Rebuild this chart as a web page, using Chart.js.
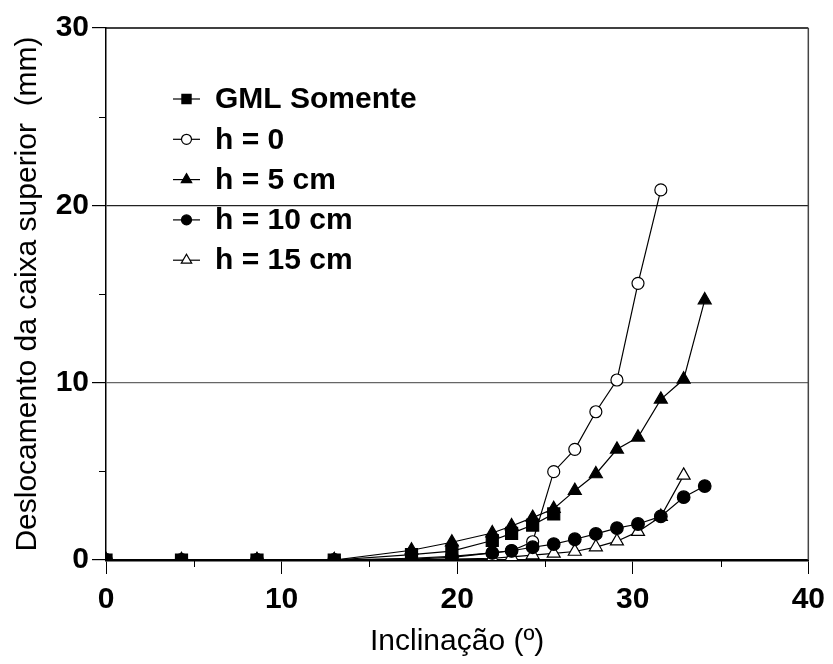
<!DOCTYPE html>
<html>
<head>
<meta charset="utf-8">
<script src="https://cdn.jsdelivr.net/npm/chart.js@4"></script>
<style>
  html, body { margin: 0; padding: 0; background: #fff; }
  #wrap { width: 833px; height: 664px; position: relative; }
</style>
</head>
<body>
<div id="wrap"><canvas id="c" width="833" height="664"></canvas></div>
<script>
// ---- data ----
const inclinacao = [0, 4.3, 8.6, 13.0, 17.4, 19.7, 22.0, 23.1, 24.3, 25.5, 26.7, 27.9, 29.1, 30.3, 31.6, 32.9, 34.1];
const gmlSomente = [0, 0, 0, 0, 0.3, 0.5, 1.1, 1.5, 1.97, 2.6];
const h0  = [0, 0, 0, 0, 0.1, 0.2, 0.4, 0.52, 1.03, 4.98, 6.24, 8.36, 10.15, 15.6, 20.87];
const h5  = [0, 0, 0, 0, 0.55, 1.0, 1.52, 1.92, 2.39, 2.89, 3.91, 4.85, 6.24, 6.92, 9.06, 10.19, 14.66];
const h10 = [0, 0, 0, 0, 0.05, 0.15, 0.4, 0.52, 0.72, 0.9, 1.17, 1.47, 1.8, 2.03, 2.46, 3.54, 4.17];
const h15 = [0, 0, 0, 0, 0, 0.05, 0.1, 0.18, 0.28, 0.37, 0.48, 0.73, 1.06, 1.6, 2.45, 4.77];
const seriesLabels = ['GML Somente', 'h = 0', 'h = 5 cm', 'h = 10 cm', 'h = 15 cm'];
const xTicks = [0, 10, 20, 30, 40];
const yTicks = [0, 10, 20, 30];
const xMinor = [5, 15, 25, 35];
const yMinor = [5, 15, 25];

function pts(ys) { return ys.map((v, i) => ({ x: inclinacao[i], y: v })); }

const styles = [
  { pointStyle: 'rect',     radius: 8.5, fill: '#000', order: 0, legendR: 6.5 },
  { pointStyle: 'circle',   radius: 6,   fill: '#fff', order: 3, legendR: 5 },
  { pointStyle: 'triangle', radius: 7.5, fill: '#000', order: 2, legendR: 6 },
  { pointStyle: 'circle',   radius: 6.3, fill: '#000', order: 1, legendR: 5 },
  { pointStyle: 'triangle', radius: 7.5, fill: '#fff', order: 4, legendR: 6 }
];
const seriesData = [gmlSomente, h0, h5, h10, h15];

const datasets = seriesData.map((d, i) => ({
  label: seriesLabels[i],
  data: pts(d),
  borderColor: '#000',
  borderWidth: 1.2,
  pointStyle: styles[i].pointStyle,
  pointRadius: styles[i].radius,
  pointBackgroundColor: styles[i].fill,
  pointBorderColor: '#000',
  pointBorderWidth: 1.2,
  order: styles[i].order,
  legendR: styles[i].legendR,
  tension: 0
}));

const FONT = "'Liberation Sans', Arial, Helvetica, sans-serif";

const decor = {
  id: 'decor',
  afterDatasetsDraw(chart) {
    const { ctx, chartArea: a, scales } = chart;
    ctx.save();
    // top and right frame
    ctx.strokeStyle = '#000';
    ctx.lineWidth = 1.5;
    ctx.beginPath();
    ctx.moveTo(a.left, a.top);
    ctx.lineTo(a.right, a.top);
    ctx.stroke();
    ctx.strokeStyle = '#444';
    ctx.lineWidth = 1.5;
    ctx.beginPath();
    ctx.moveTo(a.right, a.top);
    ctx.lineTo(a.right, a.bottom);
    ctx.stroke();
    // minor ticks
    ctx.strokeStyle = '#000';
    ctx.lineWidth = 1;
    xMinor.forEach(v => {
      const px = Math.round(scales.x.getPixelForValue(v)) + 0.5;
      ctx.beginPath(); ctx.moveTo(px, a.bottom); ctx.lineTo(px, a.bottom + 7); ctx.stroke();
    });
    yMinor.forEach(v => {
      const py = Math.round(scales.y.getPixelForValue(v)) + 0.5;
      ctx.beginPath(); ctx.moveTo(a.left - 7, py); ctx.lineTo(a.left, py); ctx.stroke();
    });
    // legend
    const lx = a.left + 67, tx = a.left + 109, ly0 = a.top + 71, step = 40.3;
    chart.data.datasets.forEach((ds, i) => {
      const y = ly0 + i * step;
      ctx.strokeStyle = '#000';
      ctx.lineWidth = 1.2;
      ctx.beginPath(); ctx.moveTo(lx, y); ctx.lineTo(lx + 27, y); ctx.stroke();
      ctx.fillStyle = ds.pointBackgroundColor;
      ctx.strokeStyle = '#000';
      ctx.lineWidth = 1.2;
      Chart.helpers.drawPoint(ctx, { pointStyle: ds.pointStyle, radius: ds.legendR, rotation: 0, borderWidth: 1.2 }, lx + 13.5, y);
      ctx.fillStyle = '#000';
      ctx.font = "bold 30px " + FONT;
      ctx.textAlign = 'left';
      ctx.textBaseline = 'middle';
      ctx.fillText(ds.label, tx, y + 1);
    });
    ctx.restore();
  }
};

new Chart(document.getElementById('c'), {
  type: 'line',
  data: { datasets },
  options: {
    responsive: false,
    animation: false,
    devicePixelRatio: 1,
    layout: { padding: { top: 28, right: 21, bottom: 0, left: 0 } },
    plugins: { legend: { display: false }, tooltip: { enabled: false } },
    scales: {
      x: {
        type: 'linear',
        min: 0, max: 40,
        afterBuildTicks(scale) { scale.ticks = xTicks.map(v => ({ value: v })); },
        afterFit(scale) { scale.height = 104; },
        ticks: { color: '#000', font: { family: FONT, size: 30, weight: 'bold' }, padding: 8, maxRotation: 0 },
        grid: { drawOnChartArea: false, color: '#000', tickColor: '#000', tickLength: 14, lineWidth: 1 },
        border: { display: true, color: '#000', width: 2.5 },
        title: { display: true, text: 'Inclinação (º)', color: '#000', font: { family: FONT, size: 30 }, padding: { top: 4, bottom: 4 } }
      },
      y: {
        type: 'linear',
        min: 0, max: 30,
        afterBuildTicks(scale) { scale.ticks = yTicks.map(v => ({ value: v })); },
        afterFit(scale) { scale.width = 106; },
        ticks: { color: '#000', font: { family: FONT, size: 30, weight: 'bold' }, padding: 3 },
        grid: {
          color: (c) => c.tick && c.tick.value === 20 ? '#222' : (c.tick && c.tick.value === 10 ? '#666' : 'rgba(0,0,0,0)'),
          tickColor: '#000', tickLength: 14, lineWidth: 1.2
        },
        border: { display: true, color: '#000', width: 1.5 },
        title: { display: true, text: 'Deslocamento da caixa superior  (mm)', color: '#000', font: { family: FONT, size: 30 }, padding: { top: 10, bottom: 0 } }
      }
    }
  },
  plugins: [decor]
});
</script>
</body>
</html>
